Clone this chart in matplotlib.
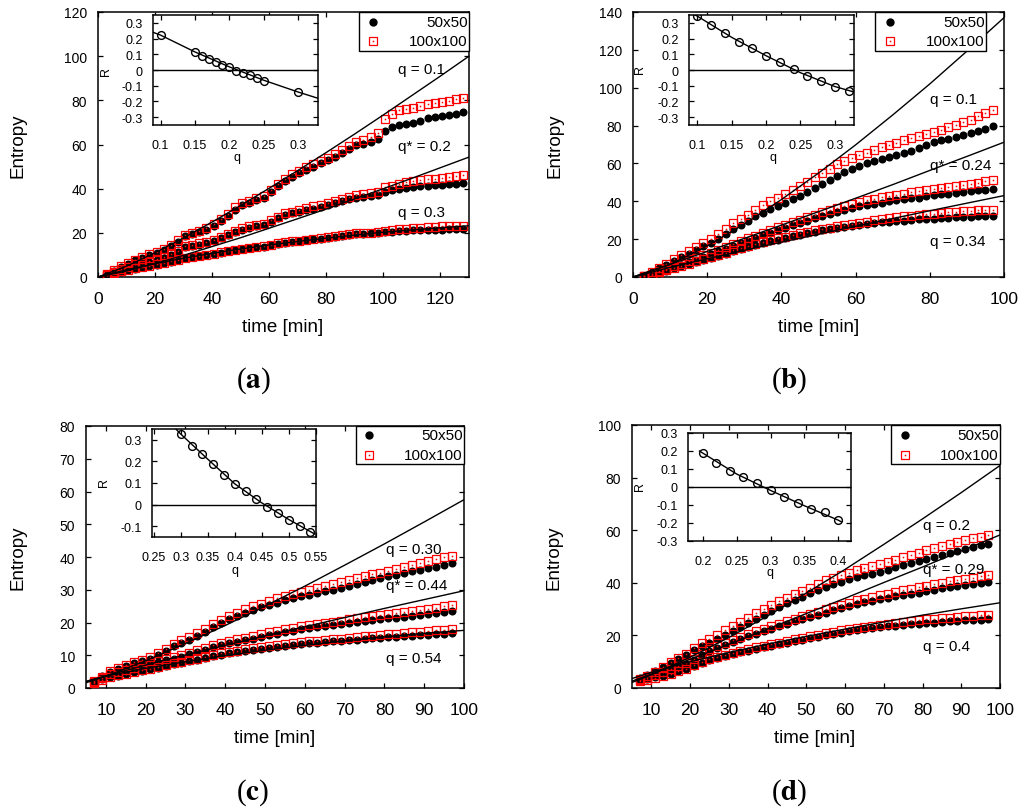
import matplotlib
matplotlib.use('Agg')
import matplotlib.pyplot as plt
from matplotlib.patches import Rectangle

plt.rcParams['font.family'] = ['Liberation Sans', 'DejaVu Sans']
plt.rcParams['axes.unicode_minus'] = False
plt.rcParams['mathtext.fontset'] = 'stix'

# ---------------- data : panel (a) ----------------
t_a = [3, 5.5, 8, 10.5, 13, 15.5, 18, 20.5, 23, 25.5, 28, 30.5, 33, 35.5, 38, 40.5, 43, 45.5, 48, 50.5,
       53, 55.5, 58, 60.5, 63, 65.5, 68, 70.5, 73, 75.5, 78, 80.5, 83, 85.5, 88, 90.5, 93, 95.5, 98, 100.5,
       103, 105.5, 108, 110.5, 113, 115.5, 118, 120.5, 123, 125.5, 128]
a_q01_50 = [1.0, 2.8, 4.5, 6.0, 7.5, 8.5, 9.8, 10.8, 12.2, 14.0, 16.0, 18.6, 19.4, 20.3, 21.5, 23.0, 25.5, 27.5, 30.5, 32.5,
            33.7, 34.8, 35.7, 38.5, 41.0, 43.5, 45.5, 47.0, 48.5, 50.0, 51.5, 52.8, 54.5, 56.2, 58.0, 59.6, 60.4, 61.3, 62.5, 66.0,
            67.8, 69.0, 69.5, 69.8, 70.8, 71.8, 72.3, 72.7, 73.3, 73.8, 74.7]
a_q01_100 = [1.2, 3.0, 4.8, 6.3, 7.8, 8.9, 10.2, 11.3, 12.8, 14.6, 16.8, 19.2, 20.0, 21.0, 22.2, 23.8, 26.3, 28.5, 31.5, 33.4,
             34.6, 35.8, 36.7, 39.3, 42.0, 44.6, 46.5, 48.0, 49.6, 51.0, 52.6, 54.0, 55.8, 57.5, 59.3, 61.0, 62.0, 63.5, 65.0, 71.5,
             74.0, 75.5, 76.3, 76.6, 77.5, 78.5, 78.9, 79.2, 79.8, 80.5, 81.2]
a_q02_50 = [0.8, 2.2, 3.4, 4.5, 5.5, 6.3, 7.0, 7.8, 8.8, 10.0, 11.5, 13.4, 14.1, 14.7, 15.4, 16.2, 17.5, 19.0, 20.4, 21.5,
            22.4, 23.0, 23.5, 25.0, 26.5, 28.0, 28.8, 29.5, 30.3, 31.0, 31.8, 32.5, 33.3, 34.2, 35.2, 36.0, 36.3, 36.6, 37.0, 38.6,
            39.3, 39.8, 40.3, 40.8, 41.0, 41.3, 41.5, 41.7, 41.9, 42.1, 42.4]
a_q02_100 = [0.9, 2.4, 3.6, 4.7, 5.7, 6.5, 7.3, 8.1, 9.1, 10.4, 12.0, 13.9, 14.6, 15.2, 15.9, 16.8, 18.1, 19.6, 21.0, 22.2,
             23.1, 23.7, 24.2, 25.8, 27.3, 28.8, 29.6, 30.4, 31.2, 32.0, 32.8, 33.5, 34.3, 35.3, 36.3, 37.2, 37.5, 37.9, 38.4, 40.6,
             41.4, 42.1, 42.8, 43.5, 43.9, 44.3, 44.6, 44.9, 45.2, 45.6, 46.2]
a_q03_50 = [0.6, 1.6, 2.4, 3.1, 3.8, 4.4, 5.0, 5.6, 6.2, 6.9, 7.7, 8.6, 9.0, 9.4, 9.9, 10.4, 11.0, 11.6, 12.2, 12.7,
            13.1, 13.4, 13.7, 14.3, 14.9, 15.4, 15.8, 16.2, 16.6, 17.0, 17.4, 17.8, 18.2, 18.6, 19.0, 19.3, 19.5, 19.7, 19.9, 20.3,
            20.6, 20.8, 21.0, 21.1, 21.2, 21.3, 21.4, 21.5, 21.6, 21.7, 21.8]
a_q03_100 = [0.7, 1.7, 2.5, 3.2, 3.9, 4.5, 5.1, 5.7, 6.4, 7.1, 7.9, 8.8, 9.2, 9.6, 10.1, 10.6, 11.2, 11.8, 12.4, 12.9,
             13.3, 13.6, 14.0, 14.6, 15.2, 15.7, 16.1, 16.5, 16.9, 17.3, 17.7, 18.1, 18.5, 18.9, 19.3, 19.7, 19.9, 20.1, 20.4, 21.0,
             21.4, 21.7, 21.9, 22.1, 22.3, 22.5, 22.7, 22.9, 23.0, 23.2, 23.3]
fit_t_a = [0, 10, 20, 30, 40, 50, 60, 70, 80, 90, 100, 110, 120, 130]
fit_a_q01 = [0, 4.9, 11.0, 17.7, 24.9, 32.4, 40.2, 48.2, 56.4, 64.8, 73.4, 82.2, 91.0, 100.0]
fit_a_q02 = [0, 2.7, 6.1, 9.8, 13.8, 17.8, 22.1, 26.4, 30.8, 35.4, 40.0, 44.7, 49.5, 54.3]
fit_a_q03 = [0, 3.3, 6.0, 8.5, 10.7, 12.7, 14.5, 16.1, 17.6, 19.0, 20.3, 21.3, 22.3, 23.2]
ins_a_q = [0.10, 0.15, 0.16, 0.17, 0.18, 0.19, 0.20, 0.21, 0.22, 0.23, 0.24, 0.25, 0.30]
ins_a_R = [0.223, 0.113, 0.087, 0.068, 0.051, 0.034, 0.017, -0.004, -0.019, -0.034, -0.051, -0.068, -0.143]
ins_a_fit_q = [0.089, 0.10, 0.15, 0.20, 0.25, 0.30, 0.329]
ins_a_fit_R = [0.240, 0.222, 0.115, 0.020, -0.065, -0.140, -0.180]
labels_a = ['q = 0.1', 'q* = 0.2', 'q = 0.3']

# ---------------- data : panel (b) ----------------
t_b = [3, 5, 7, 9, 11, 13, 15, 17, 19, 21, 23, 25, 27, 29, 31, 33, 35, 37, 39, 41, 43, 45, 47, 49,
       51, 53, 55, 57, 59, 61, 63, 65, 67, 69, 71, 73, 75, 77, 79, 81, 83, 85, 87, 89, 91, 93, 95, 97]
b_q01_50 = [0.5, 2.5, 4.6, 6.6, 8.6, 10.5, 12.4, 14.3, 16.2, 18.0, 20.2, 22.6, 25.2, 27.6, 29.8, 32.0, 34.0, 35.8, 37.3, 39.0,
            41.0, 42.9, 44.8, 46.8, 49.0, 51.2, 53.5, 55.6, 57.2, 58.7, 60.1, 61.5, 62.6, 63.6, 64.6, 65.6, 66.7, 68.0, 69.6, 71.1,
            72.2, 73.1, 74.0, 74.9, 75.9, 77.1, 78.4, 79.6]
b_q01_100 = [0.6, 2.7, 4.9, 7.1, 9.3, 11.4, 13.5, 15.6, 17.8, 20.2, 22.8, 25.6, 28.3, 30.6, 33.0, 35.6, 38.0, 40.0, 42.0, 44.1,
             46.2, 48.2, 50.3, 52.6, 55.0, 57.3, 59.5, 61.3, 62.8, 64.2, 65.7, 67.3, 68.6, 69.8, 71.0, 72.2, 73.4, 74.5, 75.5, 76.5,
             77.9, 79.3, 80.5, 81.7, 83.0, 84.8, 86.6, 88.4]
b_q024_50 = [0.3, 1.6, 2.8, 4.0, 5.2, 6.5, 7.8, 9.2, 10.7, 12.1, 13.5, 14.9, 16.3, 17.8, 19.2, 20.6, 22.0, 23.4, 24.8, 26.1,
             27.4, 28.6, 29.8, 31.0, 32.2, 33.4, 34.6, 35.6, 36.5, 37.3, 38.0, 38.7, 39.3, 39.9, 40.5, 41.0, 41.5, 42.0, 42.6, 43.1,
             43.6, 44.1, 44.5, 45.0, 45.4, 45.7, 46.0, 46.3]
b_q024_100 = [0.4, 1.8, 3.0, 4.3, 5.6, 7.0, 8.4, 9.9, 11.4, 12.9, 14.4, 15.9, 17.4, 18.9, 20.4, 21.9, 23.4, 24.9, 26.3, 27.7,
              29.0, 30.3, 31.6, 32.9, 34.1, 35.3, 36.5, 37.6, 38.7, 39.7, 40.6, 41.4, 42.1, 42.8, 43.5, 44.1, 44.7, 45.3, 45.9, 46.5,
              47.1, 47.6, 48.1, 48.7, 49.3, 49.9, 50.5, 51.0]
b_q034_50 = [0.2, 1.2, 2.3, 3.4, 4.5, 5.6, 6.7, 7.8, 8.9, 10.0, 11.2, 12.4, 13.6, 14.7, 15.8, 16.8, 17.8, 18.8, 19.7, 20.6,
             21.5, 22.3, 23.1, 23.8, 24.6, 25.3, 26.0, 26.6, 27.2, 27.7, 28.1, 28.5, 28.9, 29.2, 29.5, 29.8, 30.1, 30.4, 30.6, 30.9,
             31.1, 31.3, 31.5, 31.7, 31.8, 32.0, 32.1, 32.2]
b_q034_100 = [0.3, 1.3, 2.5, 3.6, 4.7, 5.9, 7.0, 8.2, 9.3, 10.5, 11.7, 12.9, 14.1, 15.2, 16.3, 17.4, 18.4, 19.4, 20.4, 21.3,
              22.2, 23.0, 23.8, 24.6, 25.4, 26.1, 26.8, 27.5, 28.1, 28.7, 29.3, 29.9, 30.5, 31.0, 31.5, 32.0, 32.4, 32.8, 33.2, 33.5,
              33.8, 34.1, 34.4, 34.7, 35.0, 35.2, 35.4, 35.6]
fit_t_b = [0, 10, 20, 30, 40, 50, 60, 70, 80, 90, 100]
fit_b_q01 = [0, 6.6, 16.4, 28.0, 40.9, 54.9, 69.8, 85.6, 102.0, 119.3, 137.0]
fit_b_q024 = [0, 6.7, 13.5, 20.4, 27.4, 34.5, 41.6, 48.8, 56.3, 63.7, 71.2]
fit_b_q034 = [0, 5.1, 9.6, 14.1, 18.4, 22.6, 26.8, 30.9, 35.0, 39.0, 43.0]
ins_b_q = [0.10, 0.12, 0.14, 0.16, 0.18, 0.20, 0.22, 0.24, 0.26, 0.28, 0.30, 0.32]
ins_b_R = [0.343, 0.287, 0.234, 0.181, 0.138, 0.091, 0.049, 0.004, -0.038, -0.068, -0.111, -0.132]
ins_b_fit_q = [0.088, 0.10, 0.15, 0.20, 0.25, 0.30, 0.328]
ins_b_fit_R = [0.370, 0.343, 0.208, 0.091, -0.017, -0.105, -0.140]
labels_b = ['q = 0.1', 'q* = 0.24', 'q = 0.34']

# ---------------- data : panel (c) ----------------
t_c = [7, 9, 11, 13, 15, 17, 19, 21, 23, 25, 27, 29, 31, 33, 35, 37, 39, 41, 43, 45, 47, 49, 51,
       53, 55, 57, 59, 61, 63, 65, 67, 69, 71, 73, 75, 77, 79, 81, 83, 85, 87, 89, 91, 93, 95, 97]
c_q030_50 = [2.2, 3.6, 5.0, 5.9, 6.8, 7.6, 8.3, 9.0, 10.0, 11.2, 12.8, 13.8, 14.8, 15.9, 17.2, 18.6, 19.9, 21.0, 22.0, 23.0,
             23.9, 24.7, 25.4, 26.1, 26.8, 27.4, 28.0, 28.5, 29.0, 29.5, 30.0, 30.5, 31.1, 31.7, 32.3, 32.9, 33.5, 34.1, 34.6, 35.1,
             35.6, 36.0, 36.5, 37.0, 37.6, 38.2]
c_q030_100 = [2.0, 3.5, 5.1, 6.1, 7.0, 7.9, 8.7, 9.5, 10.6, 11.9, 13.5, 14.6, 15.7, 16.8, 18.1, 19.5, 20.8, 21.9, 23.0, 24.0,
              25.0, 25.8, 26.6, 27.4, 28.1, 28.8, 29.4, 30.0, 30.6, 31.2, 31.7, 32.3, 32.9, 33.5, 34.1, 34.7, 35.2, 35.7, 36.3, 36.9,
              37.5, 38.1, 38.7, 39.3, 39.9, 40.4]
c_q044_50 = [2.0, 3.1, 4.2, 4.8, 5.4, 6.0, 6.6, 7.2, 7.8, 8.4, 9.0, 9.6, 10.3, 11.0, 11.7, 12.4, 13.0, 13.6, 14.1, 14.6,
             15.1, 15.6, 16.1, 16.6, 17.1, 17.5, 17.9, 18.3, 18.6, 18.9, 19.2, 19.5, 19.8, 20.1, 20.4, 20.7, 21.0, 21.3, 21.5, 21.8,
             22.0, 22.3, 22.6, 22.8, 23.1, 23.4]
c_q044_100 = [1.8, 3.0, 4.3, 5.0, 5.6, 6.2, 6.9, 7.5, 8.1, 8.8, 9.4, 10.1, 10.8, 11.6, 12.3, 13.0, 13.7, 14.3, 14.9, 15.4,
              15.9, 16.4, 17.0, 17.5, 18.0, 18.4, 18.8, 19.2, 19.6, 19.9, 20.3, 20.6, 21.0, 21.3, 21.7, 22.0, 22.4, 22.7, 23.0, 23.3,
              23.6, 23.9, 24.2, 24.5, 24.9, 25.2]
c_q054_50 = [1.8, 2.6, 3.3, 3.8, 4.3, 4.8, 5.2, 5.7, 6.2, 6.7, 7.2, 7.7, 8.2, 8.7, 9.2, 9.7, 10.2, 10.6, 11.0, 11.4,
             11.7, 12.0, 12.3, 12.6, 12.9, 13.2, 13.4, 13.6, 13.8, 14.0, 14.2, 14.4, 14.6, 14.8, 15.0, 15.2, 15.3, 15.5, 15.7, 15.8,
             16.0, 16.1, 16.3, 16.5, 16.6, 16.8]
c_q054_100 = [1.6, 2.5, 3.3, 3.9, 4.4, 4.9, 5.4, 5.9, 6.4, 6.9, 7.5, 8.0, 8.5, 9.0, 9.6, 10.1, 10.6, 11.0, 11.4, 11.8,
              12.2, 12.5, 12.8, 13.1, 13.4, 13.7, 14.0, 14.2, 14.4, 14.7, 14.9, 15.1, 15.4, 15.6, 15.8, 16.0, 16.2, 16.4, 16.6, 16.8,
              17.0, 17.2, 17.4, 17.6, 17.8, 18.0]
fit_t_c = [5, 10, 20, 30, 40, 50, 60, 70, 80, 90, 100]
fit_c_q030 = [1.6, 3.6, 8.3, 13.6, 19.1, 25.0, 31.1, 37.5, 44.0, 50.7, 57.5]
fit_c_q044 = [2.0, 3.7, 7.0, 10.1, 13.0, 15.9, 18.7, 21.5, 24.3, 27.0, 29.7]
fit_c_q054 = [2.0, 3.6, 6.0, 8.0, 9.9, 11.5, 13.0, 14.4, 15.6, 16.7, 17.6]
ins_c_q = [0.30, 0.32, 0.34, 0.36, 0.38, 0.40, 0.42, 0.44, 0.46, 0.48, 0.50, 0.52, 0.54]
ins_c_R = [0.326, 0.273, 0.234, 0.188, 0.139, 0.096, 0.061, 0.025, -0.009, -0.041, -0.069, -0.098, -0.126]
ins_c_fit_q = [0.29, 0.30, 0.35, 0.40, 0.45, 0.50, 0.548]
ins_c_fit_R = [0.352, 0.326, 0.210, 0.096, 0.008, -0.069, -0.136]
labels_c = ['q = 0.30', 'q* = 0.44', 'q = 0.54']

# ---------------- data : panel (d) ----------------
t_d = [7, 9, 11, 13, 15, 17, 19, 21, 23, 25, 27, 29, 31, 33, 35, 37, 39, 41, 43, 45, 47, 49, 51,
       53, 55, 57, 59, 61, 63, 65, 67, 69, 71, 73, 75, 77, 79, 81, 83, 85, 87, 89, 91, 93, 95, 97]
d_q02_50 = [3.8, 4.9, 6.3, 8.0, 9.6, 11.0, 12.5, 14.5, 16.0, 17.3, 18.6, 20.2, 21.8, 23.3, 24.8, 26.3, 27.8, 29.4, 30.9, 32.2,
            33.4, 34.7, 36.0, 37.2, 38.3, 39.4, 40.4, 41.3, 42.1, 42.8, 43.5, 44.2, 45.0, 45.9, 46.8, 47.6, 48.4, 49.2, 49.9, 50.6,
            51.3, 52.0, 52.8, 53.5, 54.2, 54.8]
d_q02_100 = [3.5, 4.7, 6.2, 8.0, 9.8, 11.4, 13.0, 15.1, 17.0, 18.7, 20.2, 22.0, 23.7, 25.2, 26.8, 28.4, 30.0, 31.6, 33.1, 34.4,
             35.6, 36.8, 38.2, 39.6, 40.9, 42.0, 43.0, 43.9, 44.8, 45.6, 46.4, 47.1, 47.9, 48.8, 49.7, 50.6, 51.5, 52.3, 53.1, 53.9,
             54.7, 55.5, 56.2, 56.9, 57.6, 58.2]
d_q029_50 = [3.3, 4.2, 5.2, 6.3, 7.3, 8.3, 9.3, 10.8, 12.5, 14.2, 15.3, 16.4, 17.6, 18.7, 19.7, 20.7, 21.7, 22.6, 23.5, 24.4,
             25.3, 26.1, 27.0, 27.8, 28.7, 29.6, 30.4, 31.2, 31.9, 32.6, 33.2, 33.8, 34.3, 34.8, 35.3, 35.8, 36.3, 36.8, 37.4, 37.9,
             38.4, 38.8, 39.2, 39.6, 40.0, 40.3]
d_q029_100 = [3.0, 3.9, 5.0, 6.2, 7.3, 8.4, 9.5, 11.1, 12.9, 14.7, 15.9, 17.1, 18.3, 19.4, 20.5, 21.5, 22.5, 23.5, 24.5, 25.4,
              26.3, 27.2, 28.1, 29.0, 29.9, 30.8, 31.7, 32.5, 33.3, 34.0, 34.7, 35.3, 35.9, 36.5, 37.1, 37.7, 38.3, 38.9, 39.5, 40.1,
              40.6, 41.1, 41.5, 42.0, 42.4, 42.8]
d_q04_50 = [3.0, 3.4, 4.0, 4.7, 5.5, 6.3, 7.2, 8.3, 9.6, 10.6, 11.4, 12.1, 12.8, 13.5, 14.2, 14.9, 15.5, 16.1, 16.7, 17.3,
            17.9, 18.4, 19.0, 19.5, 20.1, 20.6, 21.1, 21.6, 22.0, 22.4, 22.8, 23.1, 23.4, 23.7, 24.0, 24.3, 24.5, 24.7, 24.9, 25.1,
            25.3, 25.5, 25.7, 25.8, 26.0, 26.1]
d_q04_100 = [2.6, 3.1, 3.8, 4.6, 5.5, 6.4, 7.4, 8.6, 9.9, 11.0, 11.8, 12.6, 13.3, 14.0, 14.7, 15.4, 16.0, 16.7, 17.3, 17.9,
             18.5, 19.1, 19.7, 20.3, 20.8, 21.4, 21.9, 22.4, 22.8, 23.3, 23.7, 24.1, 24.5, 24.8, 25.2, 25.5, 25.8, 26.1, 26.3, 26.6,
             26.8, 27.0, 27.2, 27.4, 27.6, 27.8]
fit_t_d = [5, 10, 20, 30, 40, 50, 60, 70, 80, 90, 100]
fit_d_q02 = [2.1, 5.0, 11.7, 19.2, 27.4, 36.1, 45.1, 54.6, 64.3, 74.3, 84.6]
fit_d_q029 = [2.6, 5.3, 10.9, 16.6, 22.4, 28.3, 34.1, 40.1, 46.0, 52.1, 58.2]
fit_d_q04 = [3.6, 6.0, 10.0, 13.5, 16.7, 19.6, 22.4, 25.1, 27.7, 30.1, 32.4]
ins_d_q = [0.20, 0.22, 0.24, 0.26, 0.28, 0.30, 0.32, 0.34, 0.36, 0.38, 0.40]
ins_d_R = [0.188, 0.136, 0.089, 0.056, 0.020, -0.019, -0.054, -0.087, -0.121, -0.139, -0.184]
ins_d_fit_q = [0.195, 0.20, 0.25, 0.30, 0.35, 0.40, 0.405]
ins_d_fit_R = [0.200, 0.188, 0.072, -0.019, -0.104, -0.184, -0.194]
labels_d = ['q = 0.2', 'q* = 0.29', 'q = 0.4']

legend_names = ['50x50', '100x100']
panel_tags = ['a', 'b', 'c', 'd']

# ---------------- layout helpers ----------------
W, H = 1024, 812
fig = plt.figure(figsize=(W / 100, H / 100), dpi=100)


def rect(l, t, r, b):
    return [l / W, 1 - b / H, (r - l) / W, (b - t) / H]


def fp(x, y):
    return x / W, 1 - y / H


def fmt_r(v):
    s = ('%.2f' % v).rstrip('0').rstrip('.')
    return '0' if s in ('-0', '0') else s


panels = [
    dict(t=t_a, series=[(a_q01_50, a_q01_100), (a_q02_50, a_q02_100), (a_q03_50, a_q03_100)],
         fit_t=fit_t_a, fits=[fit_a_q01, fit_a_q02, fit_a_q03],
         ax_px=(98, 13, 469, 278), xlim=(0, 130), ylim=(0, 120),
         xticks=[0, 20, 40, 60, 80, 100, 120], yticks=[0, 20, 40, 60, 80, 100, 120],
         ins_px=(153, 16, 318, 126), ins_xlim=(0.089, 0.329), ins_ylim=(-0.35, 0.35),
         ins_xticks=[0.1, 0.15, 0.2, 0.25, 0.3], ins_yticks=[-0.3, -0.2, -0.1, 0, 0.1, 0.2, 0.3],
         ins=(ins_a_q, ins_a_R, ins_a_fit_q, ins_a_fit_R),
         q_px=(237, 158), R_px=(106, 71),
         leg=(0.7035, 1.0, 0.853, 0.741, 0.961, 0.889),
         labels=labels_a, lab_px=[(398, 70), (398, 147), (398, 213)],
         ylab_px=(18.5, 145.5), xlab_px=(283, 328), tag_px=(253, 381)),
    dict(t=t_b, series=[(b_q01_50, b_q01_100), (b_q024_50, b_q024_100), (b_q034_50, b_q034_100)],
         fit_t=fit_t_b, fits=[fit_b_q01, fit_b_q024, fit_b_q034],
         ax_px=(633, 13, 1004, 278), xlim=(0, 100), ylim=(0, 140),
         xticks=[0, 20, 40, 60, 80, 100], yticks=[0, 20, 40, 60, 80, 100, 120, 140],
         ins_px=(689, 16, 854, 126), ins_xlim=(0.088, 0.328), ins_ylim=(-0.35, 0.35),
         ins_xticks=[0.1, 0.15, 0.2, 0.25, 0.3], ins_yticks=[-0.3, -0.2, -0.1, 0, 0.1, 0.2, 0.3],
         ins=(ins_b_q, ins_b_R, ins_b_fit_q, ins_b_fit_R),
         q_px=(773, 158), R_px=(640, 70),
         leg=(0.652, 0.951, 0.853, 0.693, 0.961, 0.889),
         labels=labels_b, lab_px=[(930, 100), (930, 166), (930, 242)],
         ylab_px=(555, 145.5), xlab_px=(818.5, 328), tag_px=(789, 381)),
    dict(t=t_c, series=[(c_q030_50, c_q030_100), (c_q044_50, c_q044_100), (c_q054_50, c_q054_100)],
         fit_t=fit_t_c, fits=[fit_c_q030, fit_c_q044, fit_c_q054],
         ax_px=(86, 427, 464, 689), xlim=(5, 100), ylim=(0, 80),
         xticks=[10, 20, 30, 40, 50, 60, 70, 80, 90, 100], yticks=[0, 10, 20, 30, 40, 50, 60, 70, 80],
         ins_px=(152, 430, 316, 538), ins_xlim=(0.2465, 0.5505), ins_ylim=(-0.15, 0.35),
         ins_xticks=[0.25, 0.3, 0.35, 0.4, 0.45, 0.5, 0.55], ins_yticks=[-0.1, 0, 0.1, 0.2, 0.3],
         ins=(ins_c_q, ins_c_R, ins_c_fit_q, ins_c_fit_R),
         q_px=(235, 571), R_px=(104, 483),
         leg=(0.714, 1.0, 0.855, 0.749, 0.966, 0.890),
         labels=labels_c, lab_px=[(386, 550), (386, 586), (386, 659)],
         ylab_px=(18, 558), xlab_px=(275, 739), tag_px=(253, 793)),
    dict(t=t_d, series=[(d_q02_50, d_q02_100), (d_q029_50, d_q029_100), (d_q04_50, d_q04_100)],
         fit_t=fit_t_d, fits=[fit_d_q02, fit_d_q029, fit_d_q04],
         ax_px=(632, 426, 1000, 689), xlim=(5, 100), ylim=(0, 100),
         xticks=[10, 20, 30, 40, 50, 60, 70, 80, 90, 100], yticks=[0, 20, 40, 60, 80, 100],
         ins_px=(688, 434, 851, 542), ins_xlim=(0.178, 0.419), ins_ylim=(-0.3, 0.3),
         ins_xticks=[0.2, 0.25, 0.3, 0.35, 0.4], ins_yticks=[-0.3, -0.2, -0.1, 0, 0.1, 0.2, 0.3],
         ins=(ins_d_q, ins_d_R, ins_d_fit_q, ins_d_fit_R),
         q_px=(770, 573), R_px=(640, 487),
         leg=(0.704, 1.0, 0.852, 0.742, 0.962, 0.887),
         labels=labels_d, lab_px=[(923, 526), (923, 570), (923, 647)],
         ylab_px=(554, 558), xlab_px=(815, 739), tag_px=(789, 793)),
]

for tag, P in zip(panel_tags, panels):
    ax = fig.add_axes(rect(*P['ax_px']))
    t = P['t']
    for s50, s100 in P['series']:
        ax.plot(t, s50, 'o', color='black', ms=5.8, mew=0, zorder=2)
        ax.plot(t, s100, 's', mfc='none', mec='red', ms=5.4, mew=0.9, zorder=3)
        ax.plot(t, s100, 's', color='red', ms=1.1, mew=0, zorder=3)
    for f in P['fits']:
        ax.plot(P['fit_t'], f, '-', color='black', lw=1.0, zorder=4)
    ax.set_xlim(*P['xlim'])
    ax.set_ylim(*P['ylim'])
    ax.set_xticks(P['xticks'])
    ax.set_xticklabels([str(v) for v in P['xticks']])
    ax.set_yticks(P['yticks'])
    ax.set_yticklabels([str(v) for v in P['yticks']])
    ax.tick_params(direction='in', top=True, right=True, length=3.8, width=0.9)
    ax.tick_params(axis='x', labelsize=12.5, pad=10.0)
    ax.tick_params(axis='y', labelsize=10, pad=8.0)
    for sp in ax.spines.values():
        sp.set_linewidth(1.1)

    # gnuplot-like key
    x0, x1, y0, mx, r1, r2 = P['leg']
    ax.add_patch(Rectangle((x0, y0), x1 - x0, 1.0 - y0, transform=ax.transAxes,
                           facecolor='white', edgecolor='black', lw=1.0, zorder=5, clip_on=False))
    ax.plot([mx], [r1], 'o', color='black', ms=6.0, mew=0, transform=ax.transAxes, zorder=6, clip_on=False)
    ax.plot([mx], [r2], 's', mfc='none', mec='red', ms=5.6, mew=0.9, transform=ax.transAxes, zorder=6, clip_on=False)
    ax.plot([mx], [r2], 's', color='red', ms=1.1, mew=0, transform=ax.transAxes, zorder=6, clip_on=False)
    ax.text(x1 - 0.003, r1, legend_names[0], transform=ax.transAxes, ha='right', va='center', fontsize=11, zorder=7)
    ax.text(x1 - 0.003, r2, legend_names[1], transform=ax.transAxes, ha='right', va='center', fontsize=11, zorder=7)

    # curve labels
    for lab, (lx, ly) in zip(P['labels'], P['lab_px']):
        fig.text(*fp(lx, ly), lab, ha='left', va='center', fontsize=11)

    fig.text(*fp(*P['ylab_px']), 'Entropy', rotation=90, ha='center', va='center', fontsize=13.5)
    fig.text(*fp(*P['xlab_px']), 'time [min]', ha='center', va='center', fontsize=13.5)
    fig.text(*fp(*P['tag_px']), '($\\mathbf{%s}$)' % tag, ha='center', va='center', fontsize=21,
             family='Liberation Serif')

    # inset
    iq, iR, ifq, ifR = P['ins']
    ia = fig.add_axes(rect(*P['ins_px']))
    ia.axhline(0, color='black', lw=1.0, zorder=1)
    ia.plot(ifq, ifR, '-', color='black', lw=1.0, zorder=2)
    ia.plot(iq, iR, 'o', mfc='none', mec='black', ms=5.6, mew=1.0, zorder=3)
    ia.set_xlim(*P['ins_xlim'])
    ia.set_ylim(*P['ins_ylim'])
    ia.set_xticks(P['ins_xticks'])
    ia.set_xticklabels([fmt_r(v) for v in P['ins_xticks']])
    ia.set_yticks(P['ins_yticks'])
    ia.set_yticklabels([fmt_r(v) for v in P['ins_yticks']])
    ia.tick_params(direction='in', top=True, right=True, length=3.5, width=0.9, labelsize=9)
    ia.tick_params(axis='x', pad=10.0)
    ia.tick_params(axis='y', pad=7.5)
    for sp in ia.spines.values():
        sp.set_linewidth(1.1)
    fig.text(*fp(*P['q_px']), 'q', ha='center', va='center', fontsize=9)
    fig.text(*fp(*P['R_px']), 'R', rotation=90, ha='center', va='center', fontsize=9)

fig.savefig('out.png', dpi=100)
